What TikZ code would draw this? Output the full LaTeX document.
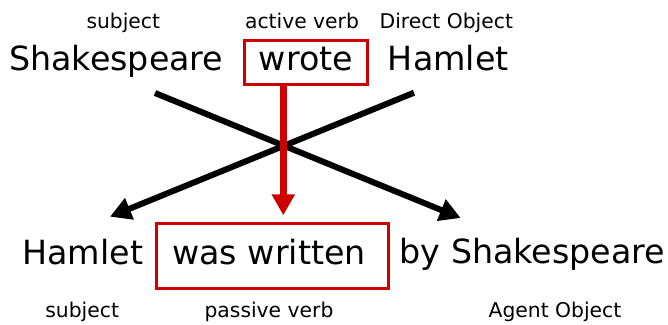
\documentclass[tikz,border=0pt]{standalone}
\usepackage{fontspec}
\setmainfont{DejaVu Sans}
\usetikzlibrary{arrows.meta}
\definecolor{boxred}{RGB}{204,0,0}
\begin{document}
\begin{tikzpicture}[x=1pt,y=-1pt,
  big/.style={inner sep=0pt,anchor=base,font=\fontsize{33.3}{40}\selectfont},
  small/.style={inner sep=0pt,anchor=base,font=\fontsize{20.3}{24}\selectfont},
  redbox/.style={draw=boxred,line width=2.8pt,inner sep=0pt,text height=16pt,text depth=0pt,
    font=\fontsize{33.3}{40}\selectfont},
  redarrow/.style={draw=boxred,line width=6.5pt,-{Triangle[length=21pt,width=22pt]}},
  blackarrow/.style={draw=black,line width=6pt,-{Triangle[length=21pt,width=22pt]}}]
\useasboundingbox (0,0) rectangle (668,324);
% top row
\node[small] (subj1) at (123.3,28.3) {subject};
\node[small] (act) at (302,28.3) {active verb};
\node[small] (dobj) at (446.3,28.3) {Direct Object};
\node[big] (shak) at (116.3,70.7) {Shakespeare};
\node[redbox,minimum width=123.6pt,minimum height=43.7pt] (wrote) at (306,62.7) {wrote};
\node[big] (ham1) at (448.3,70.7) {Hamlet};
% bottom row
\node[big] (ham2) at (82.8,264.3) {Hamlet};
\node[redbox,minimum width=232pt,minimum height=65.3pt,text height=16.9pt] (written) at (272.5,255.85) {\hspace*{-7pt}was written};
\node[big] (bysh) at (532.5,263.8) {by Shakespeare};
\node[small] (subj2) at (82.2,317.3) {subject};
\node[small] (pv) at (269,317.3) {passive verb};
\node[small] (ao) at (555,317.3) {Agent Object};
% connectors
\coordinate (ax) at (283.3,0);
\coordinate (a1) at (155,93);
\coordinate (b1) at (460.7,218);
\coordinate (a2) at (414,92.7);
\coordinate (b2) at (110,216.7);
\draw[blackarrow] (a1) -- (b1);
\draw[blackarrow] (a2) -- (b2);
\draw[redarrow,shorten >=6.5pt] (wrote.south -| ax) -- (written.north -| ax);
\end{tikzpicture}
\end{document}
